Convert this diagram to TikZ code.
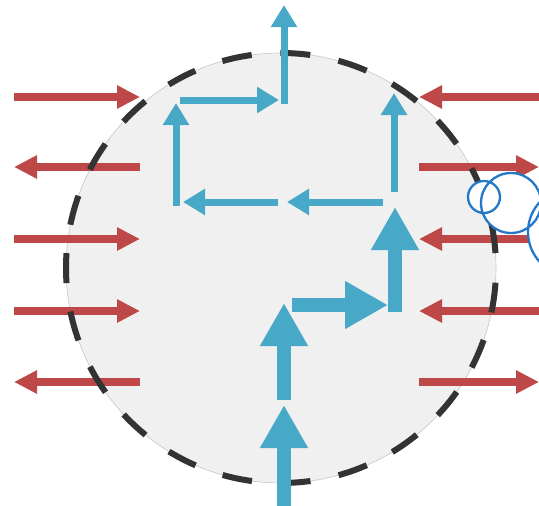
\documentclass[tikz,border=0pt]{standalone}
\usetikzlibrary{arrows.meta}
\definecolor{cellfill}{RGB}{240,240,240}
\definecolor{ionred}{RGB}{190,72,72}
\definecolor{flowblue}{RGB}{72,168,200}
\definecolor{bubbleblue}{RGB}{35,120,200}
\tikzset{
  redarrow/.style={ionred, line width=8pt, -{Triangle[width=22pt,length=23pt]}},
  thinflow/.style={flowblue, line width=7pt, -{Triangle[width=25pt,length=22pt]}},
  thickflow/.style={flowblue, line width=14pt, -{Triangle[width=45pt,length=43pt]}},
  bubble/.style={bubbleblue, line width=2.3pt}
}
\begin{document}
\begin{tikzpicture}[x=1pt,y=-1pt]
\useasboundingbox (0,0) rectangle (539,506);
\clip (0,0) rectangle (539,506);
\coordinate (c) at (281,268);
\fill[cellfill] (c) circle (215);
\draw[gray!45, line width=.6pt] (c) circle (215);
% ions crossing the membrane
\foreach \y [count=\i] in {97,167,239,311,382} {
  \coordinate (lo\i) at (14,\y);
  \coordinate (li\i) at (140,\y);
  \coordinate (ri\i) at (419,\y);
  \coordinate (ro\i) at (539,\y);
}
\foreach \i in {1,3,4} {
  \draw[redarrow] (lo\i) -- (li\i);
  \draw[redarrow] (ro\i) -- (ri\i);
}
\foreach \i in {2,5} {
  \draw[redarrow] (li\i) -- (lo\i);
  \draw[redarrow] (ri\i) -- (ro\i);
}
\draw[black!80, line width=6pt, dash pattern=on 30pt off 28.7pt, dash phase=44pt] (c) circle (215);
% thin flow
\coordinate (t1) at (394,192); \coordinate (t2) at (394,93);
\coordinate (h1) at (383,202); \coordinate (h2) at (287,202);
\coordinate (h3) at (278,202); \coordinate (h4) at (183,202);
\coordinate (v1) at (176,206); \coordinate (v2) at (176,103);
\coordinate (h5) at (180,100); \coordinate (h6) at (279,100);
\coordinate (e1) at (284,104); \coordinate (e2) at (284,5);
\draw[thinflow] (t1) -- (t2);
\draw[thinflow] (h1) -- (h2);
\draw[thinflow] (h3) -- (h4);
\draw[thinflow] (v1) -- (v2);
\draw[thinflow] (h5) -- (h6);
\draw[thinflow] (e1) -- (e2);
% thick flow
\coordinate (b1) at (284,506); \coordinate (b2) at (284,405);
\coordinate (b3) at (284,400); \coordinate (b4) at (284,303);
\coordinate (b5) at (292,305); \coordinate (b6) at (388,305);
\coordinate (b7) at (395,312); \coordinate (b8) at (395,207);
\draw[thickflow] (b1) -- (b2);
\draw[thickflow] (b3) -- (b4);
\draw[thickflow] (b5) -- (b6);
\draw[thickflow] (b7) -- (b8);
% bubbles
\fill[white] (484,197) circle (16) (511,203) circle (30) (572,232) circle (44);
\draw[bubble] (484,197) circle (16) (511,203) circle (30) (572,232) circle (44);
\end{tikzpicture}
\end{document}
